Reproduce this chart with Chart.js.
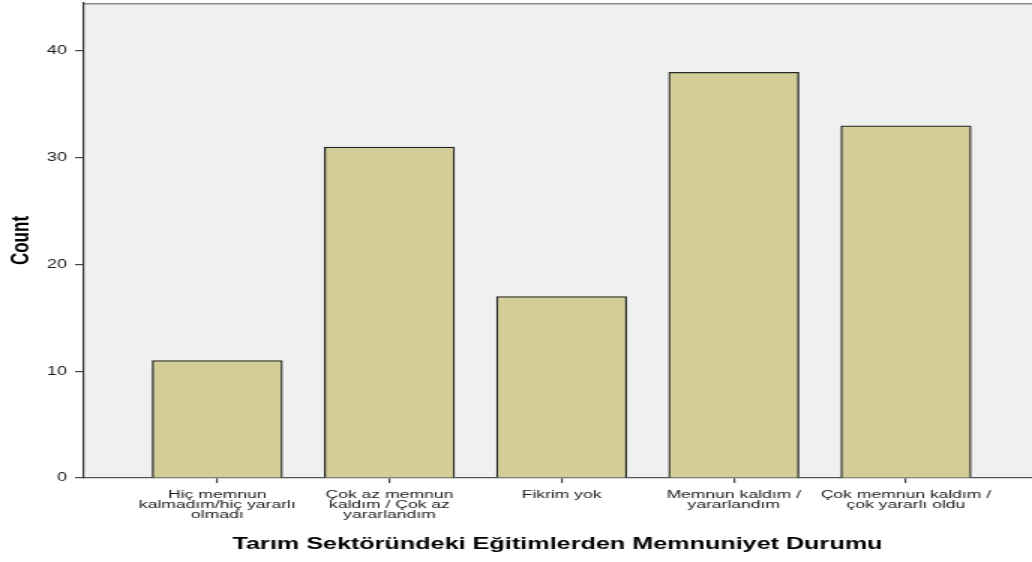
<!DOCTYPE html>
<html>
<head>
<meta charset="utf-8">
<script src="https://cdn.jsdelivr.net/npm/chart.js@4/dist/chart.umd.min.js"></script>
<style>
  html, body { margin: 0; padding: 0; background: #ffffff; overflow: hidden; }
</style>
</head>
<body>
<canvas id="c" width="688" height="562" style="display:block;width:1032px;height:562px;"></canvas>
<script>
// ---- data ----
const categories = [
  ["Hiç memnun", "kalmadım/hiç yararlı", "olmadı"],
  ["Çok az memnun", "kaldım / Çok az", "yararlandım"],
  ["Fikrim yok"],
  ["Memnun kaldım /", "yararlandım"],
  ["Çok memnun kaldım /", "çok yararlı oldu"]
];
const counts = [11, 31, 17, 38, 33];
const yTicks = [0, 10, 20, 30, 40];
const xTitle = "Tarım Sektöründeki Eğitimlerden Memnuniyet Durumu";
const yTitle = "Count";

const FONT = "'Liberation Sans', Arial, sans-serif";

const plotBg = {
  id: 'plotBg',
  beforeDraw(chart) {
    const { ctx, chartArea: a } = chart;
    ctx.save();
    ctx.fillStyle = '#f0f0f0';
    ctx.fillRect(a.left, a.top, a.right - a.left, a.bottom - a.top);
    ctx.strokeStyle = '#8a8a8a';
    ctx.lineWidth = 1.5;
    ctx.beginPath();
    ctx.moveTo(a.left, a.top + 0.75);
    ctx.lineTo(a.right, a.top + 0.75);
    ctx.stroke();
    ctx.restore();
  }
};

const canvas = document.getElementById('c');
new Chart(canvas, {
  type: 'bar',
  data: {
    datasets: [{
      data: counts.map((v, i) => ({ x: i, y: v })),
      backgroundColor: '#d3ce97',
      borderColor: '#262626',
      borderWidth: 1.3,
      barThickness: 86.7
    }]
  },
  options: {
    responsive: false,
    devicePixelRatio: 1,
    animation: false,
    layout: { padding: { top: 3, right: 0, bottom: 0, left: 0 } },
    plugins: { legend: { display: false }, tooltip: { enabled: false } },
    scales: {
      x: {
        type: 'linear',
        offset: false,
        min: -0.78,
        max: 4.732,
        afterBuildTicks(scale) { scale.ticks = categories.map((c, i) => ({ value: i })); },
        afterFit(scale) { scale.height = 84; scale.paddingLeft = 0; scale.paddingRight = 0; },
        grid: { display: true, offset: false, drawOnChartArea: false, drawTicks: true, tickLength: 5, color: '#444', lineWidth: 1.2 },
        border: { display: true, color: '#555', width: 1.2 },
        ticks: {
          autoSkip: false,
          maxRotation: 0,
          padding: 6.5,
          color: '#1a1a1a',
          font: { family: FONT, size: 11.7, lineHeight: '10px' },
          callback: (v) => categories[v]
        },
        title: {
          display: true,
          text: xTitle,
          color: '#000',
          font: { family: FONT, size: 16.8, weight: 'bold', lineHeight: 1.2 },
          padding: { top: 0, bottom: 7.2 }
        }
      },
      y: {
        min: 0,
        max: 44.5,
        afterBuildTicks(scale) { scale.ticks = yTicks.map(v => ({ value: v })); },
        afterFit(scale) { scale.width = 55.33; scale.paddingTop = 0; scale.paddingBottom = 0; },
        grid: { display: true, drawOnChartArea: false, drawTicks: true, tickLength: 5.33, color: '#444', lineWidth: 1.2 },
        border: { display: true, color: '#333', width: 1.2 },
        ticks: {
          padding: 5.3,
          color: '#1a1a1a',
          font: { family: FONT, size: 12 }
        },
        title: {
          display: true,
          text: yTitle,
          color: '#000',
          font: { family: FONT, size: 17, weight: 'bold', lineHeight: 1.2 },
          padding: { top: 3.8, bottom: 0 }
        }
      }
    }
  },
  plugins: [plotBg]
});
canvas.style.width = '1032px';
canvas.style.height = '562px';
</script>
</body>
</html>
